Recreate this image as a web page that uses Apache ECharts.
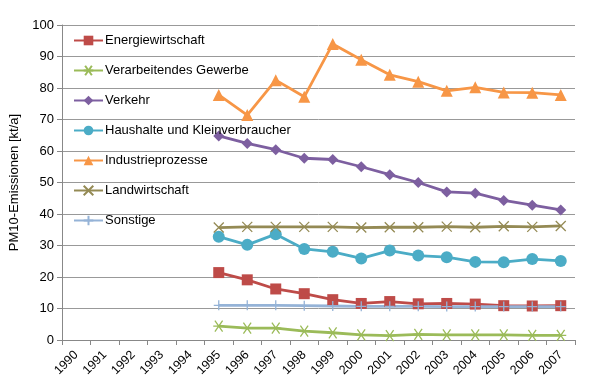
<!DOCTYPE html>
<html><head><meta charset="utf-8">
<script src="https://cdn.jsdelivr.net/npm/echarts@6/dist/echarts.min.js"></script>
<style>html,body{margin:0;padding:0;background:#fff}#c{width:600px;height:391px}</style>
</head><body><div id="c"></div>
<script>
const years = ['1990','1991','1992','1993','1994','1995','1996','1997','1998','1999','2000','2001','2002','2003','2004','2005','2006','2007'];
const pad = [null,null,null,null,null];
const energiewirtschaft = [21.4,19.1,16.2,14.7,12.8,11.6,12.2,11.5,11.6,11.4,10.9,10.8,10.9];
const verarbeitendes = [4.4,3.8,3.8,2.8,2.3,1.6,1.4,1.8,1.6,1.6,1.6,1.5,1.5];
const verkehr = [64.8,62.4,60.4,57.7,57.3,55.0,52.5,50.0,47.0,46.6,44.3,42.8,41.3];
const haushalte = [32.8,30.2,33.6,28.9,28.0,25.9,28.4,26.8,26.3,24.8,24.7,25.7,25.1];
const industrie = [77.8,71.4,82.5,77.2,94.0,89.0,84.2,82.0,79.1,80.2,78.6,78.5,77.8];
const landwirtschaft = [35.7,35.9,35.9,35.9,35.9,35.7,35.8,35.8,36.0,35.8,36.1,35.9,36.2];
const sonstige = [11.0,11.0,11.0,10.9,10.8,10.7,10.7,10.7,10.6,10.6,10.6,10.6,10.6];
const yTicks = [0,10,20,30,40,50,60,70,80,90,100];

const starPath = 'path://M0,5 L10,5 M1.5,1.5 L8.5,8.5 M8.5,1.5 L1.5,8.5';
const xPath = 'path://M0,0 L10,10 M10,0 L0,10';
const plusPath = 'path://M5,0 L5,10 M0,5 L10,5';

function mk(name, data, color, symbol, size, strokeSym){
  return {
    name, type:'line', data: pad.concat(data), color,
    symbol, symbolSize: size,
    lineStyle:{width:2.8, color},
    itemStyle: strokeSym ? {color:'rgba(0,0,0,0)', borderColor:color, borderWidth:1.3} : {color, borderWidth:0},
    emphasis:{disabled:true}, animation:false
  };
}

const chart = echarts.init(document.getElementById('c'), null, {renderer:'canvas'});
chart.setOption({
  animation:false,
  textStyle:{fontFamily:'Liberation Sans, Arial, sans-serif'},
  grid:{left:62, right:25, top:25, bottom:51},
  legend:{
    orient:'vertical', left:68, top:29, itemGap:17, itemWidth:29, itemHeight:12,
    textStyle:{fontSize:13, color:'#000', fontFamily:'Liberation Sans, Arial, sans-serif', padding:[0,0,0,-3]},
    data:['Energiewirtschaft','Verarbeitendes Gewerbe','Verkehr','Haushalte und Kleinverbraucher','Industrieprozesse','Landwirtschaft','Sonstige']
  },
  xAxis:{
    type:'category', data:years, boundaryGap:true,
    axisLine:{lineStyle:{color:'#888', width:1}},
    axisTick:{show:true, alignWithLabel:false, length:5, lineStyle:{color:'#888'}},
    axisLabel:{rotate:45, fontSize:12.5, color:'#000', interval:0, margin:13}
  },
  yAxis:{
    type:'value', min:yTicks[0], max:yTicks[yTicks.length-1], interval:10,
    name:'PM10-Emissionen [kt/a]', nameLocation:'middle', nameGap:37,
    nameTextStyle:{fontSize:13, color:'#000'},
    axisLine:{show:true, lineStyle:{color:'#888'}},
    axisTick:{show:true, length:5, lineStyle:{color:'#888'}},
    axisLabel:{fontSize:13, color:'#000', margin:8},
    splitLine:{lineStyle:{color:'#999', width:1}}
  },
  series:[
    mk('Energiewirtschaft', energiewirtschaft, '#BE4B48', 'rect', 11, false),
    mk('Verarbeitendes Gewerbe', verarbeitendes, '#9BBB59', starPath, 11, true),
    mk('Verkehr', verkehr, '#7D5FA0', 'diamond', 11, false),
    mk('Haushalte und Kleinverbraucher', haushalte, '#4BACC6', 'circle', 12, false),
    mk('Industrieprozesse', industrie, '#F79646', 'triangle', 12, false),
    mk('Landwirtschaft', landwirtschaft, '#948A54', xPath, 10, true),
    mk('Sonstige', sonstige, '#95B3D7', plusPath, 10, true)
  ]
});
</script></body></html>
